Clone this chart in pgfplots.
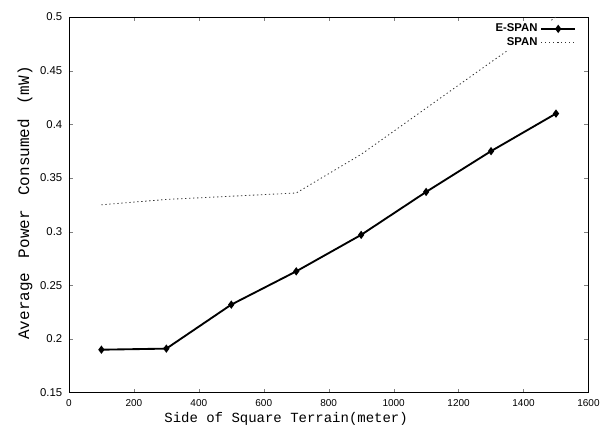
\documentclass[border=0pt]{standalone}
\usepackage{fontspec}
\setmainfont{Liberation Sans}
\setmonofont{Liberation Mono}
\usepackage{pgfplots}
\pgfplotsset{compat=1.18}
\begin{document}
\begin{tikzpicture}
\begin{axis}[
  scale only axis,
  width=390pt, height=282pt,
  xmin=0, xmax=1600,
  ymin=0.15, ymax=0.5,
  xtick={0,200,...,1600},
  ytick={0.15,0.2,...,0.5},
  yticklabels={0.15,0.2,0.25,0.3,0.35,0.4,0.45,0.5},
  scaled ticks=false,
  /pgf/number format/assume math mode=true,
  /pgf/number format/1000 sep={},
  xticklabel style={font=\fontsize{7.5}{9}\selectfont, yshift=-1.5pt},
  yticklabel style={font=\fontsize{8.5}{10}\selectfont, xshift=-1.5pt},
  tick align=inside,
  major tick length=3pt,
  xlabel={\texttt{Side of Square Terrain(meter)}},
  ylabel={\texttt{Average\hspace{0.9em}Power\hspace{0.9em}Consumed\hspace{0.9em}(mW)}},
  xlabel style={font=\fontsize{10.5}{12}\selectfont,
    at={([yshift=-19.5pt]axis description cs:0.418,0)}, anchor=center},
  ylabel style={font=\fontsize{12}{14}\selectfont,
    at={([xshift=-33pt]axis description cs:0,0.505)}, anchor=center},
  axis line style={line width=0.6pt},
  legend style={draw=none, fill=white, at={(1,1)}, xshift=-9pt, yshift=-3pt,
    anchor=north east, inner sep=0pt,
    font=\bfseries\fontsize{8.5}{9}\selectfont, row sep=-1pt},
  legend cell align=right,
  legend plot pos=right,
  legend image code/.code={\draw[mark repeat=2, mark phase=2, #1]
    plot coordinates {(0cm,0cm) (0.45cm,0cm) (0.9cm,0cm)};},
]
\addplot[black, line width=1.4pt, mark=diamond*, mark size=2pt] coordinates {
  (100,0.190) (300,0.191) (500,0.232) (700,0.263)
  (900,0.297) (1100,0.337) (1300,0.375) (1500,0.410)
};
\addlegendentry{E-SPAN}
\addplot[black!80, line width=0.6pt, dash pattern=on 1pt off 2pt] coordinates {
  (100,0.325) (300,0.330) (500,0.333) (700,0.336)
  (900,0.372) (1100,0.415) (1300,0.458) (1500,0.500)
};
\addlegendentry{SPAN}
\end{axis}
\path ([shift={(-51.75pt,-26.25pt)}]current axis.south west)
  rectangle ([shift={(11.25pt,12.75pt)}]current axis.north east);
\end{tikzpicture}
\end{document}
